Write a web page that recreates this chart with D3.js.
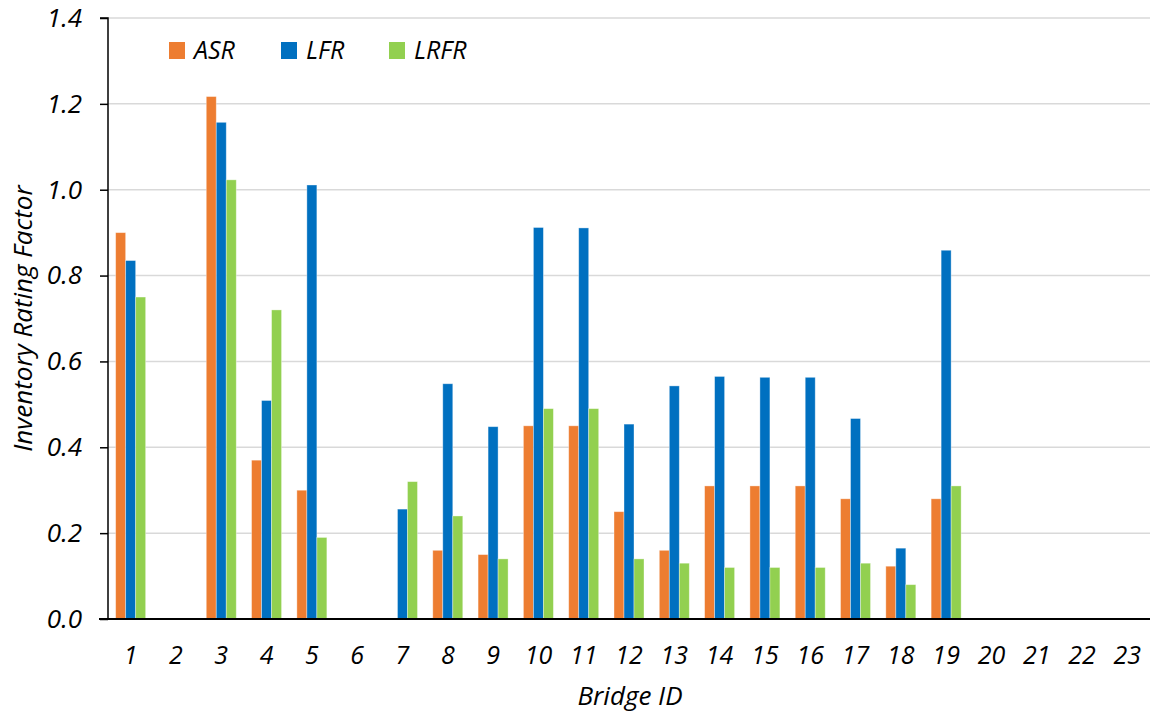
<!DOCTYPE html>
<html>
<head>
<meta charset="utf-8">
<script src="https://cdn.jsdelivr.net/npm/d3@7"></script>
<style>
  html, body { margin: 0; padding: 0; background: #fff; }
  svg text { font-family: "Open Sans", "Noto Sans", sans-serif; font-style: italic; fill: #000; }
</style>
</head>
<body>
<svg id="chart" width="1151" height="715"></svg>
<script>
// Bridge IDs along the horizontal axis
const bridgeIds = ["1","2","3","4","5","6","7","8","9","10","11","12","13","14","15","16","17","18","19","20","21","22","23"];

// Inventory rating factors per method (null = not rated)
const asr  = [0.90, null, 1.217, 0.37, 0.30, null, null, 0.16, 0.15, 0.45, 0.45, 0.25, 0.16, 0.31, 0.31, 0.31, 0.28, 0.123, 0.28, null, null, null, null];
const lfr  = [0.835, null, 1.157, 0.509, 1.011, null, 0.256, 0.548, 0.448, 0.912, 0.911, 0.454, 0.543, 0.565, 0.563, 0.563, 0.467, 0.165, 0.859, null, null, null, null];
const lrfr = [0.75, null, 1.023, 0.72, 0.19, null, 0.32, 0.24, 0.14, 0.49, 0.49, 0.14, 0.13, 0.12, 0.12, 0.12, 0.13, 0.08, 0.31, null, null, null, null];

const seriesNames = ["ASR", "LFR", "LRFR"];
const seriesColors = ["#ED7D31", "#0070C0", "#92D050"];
const yTicks = [0, 0.2, 0.4, 0.6, 0.8, 1.0, 1.2, 1.4];

const svg = d3.select("#chart");
const plot = { left: 108, right: 1150, top: 18, bottom: 619 };

const x = d3.scaleBand().domain(bridgeIds).range([plot.left, plot.right]).paddingInner(0).paddingOuter(0);
const xSeries = d3.scaleBand().domain(seriesNames).range([0, 30]);
const y = d3.scaleLinear().domain([0, 1.4]).range([plot.bottom, plot.top]);

// horizontal gridlines
svg.append("g")
  .selectAll("line")
  .data(yTicks.slice(1))
  .join("line")
  .attr("x1", plot.left).attr("x2", plot.right)
  .attr("y1", d => y(d)).attr("y2", d => y(d))
  .attr("stroke", "#d9d9d9").attr("stroke-width", 1.5);

// bars
const seriesData = [asr, lfr, lrfr];
const bars = svg.append("g");
seriesNames.forEach((name, si) => {
  const rows = bridgeIds.map((id, i) => ({ id, v: seriesData[si][i] })).filter(d => d.v != null);
  bars.append("g")
    .selectAll("rect")
    .data(rows)
    .join("rect")
    .attr("x", d => x(d.id) + x.bandwidth() / 2 - 15 + xSeries(name))
    .attr("width", xSeries.bandwidth())
    .attr("y", d => y(d.v))
    .attr("height", d => y(0) - y(d.v))
    .attr("fill", seriesColors[si])
    .attr("stroke", "rgba(255,255,255,0.45)")
    .attr("stroke-width", 0.8);
});

// y axis
const yAxis = d3.axisLeft(y).tickValues(yTicks).tickFormat(d3.format(".1f")).tickSize(8).tickPadding(18);
const gy = svg.append("g").attr("transform", `translate(${plot.left},0)`).call(yAxis);
gy.select(".domain").attr("stroke", "#000").attr("stroke-width", 1.5).attr("d", `M${-8},${plot.top}H0V${plot.bottom}`);
gy.selectAll(".tick line").attr("stroke", "#000").attr("stroke-width", 1.5);
gy.selectAll(".tick text").attr("font-size", 26).style("font-family", "'Open Sans', sans-serif").style("font-style", "italic").attr("fill", "#000");

// x axis
const xAxis = d3.axisBottom(x).tickSize(0).tickPadding(27);
const gx = svg.append("g").attr("transform", `translate(0,${plot.bottom})`).call(xAxis);
gx.select(".domain").attr("stroke", "#000").attr("stroke-width", 2).attr("d", `M${plot.left - 9},0H${plot.right}`);
gx.selectAll(".tick text").attr("font-size", 25).style("font-family", "'Open Sans', sans-serif").style("font-style", "italic").attr("fill", "#000");

// axis titles
svg.append("text")
  .attr("x", 630).attr("y", 705)
  .attr("text-anchor", "middle")
  .attr("font-size", 26)
  .text("Bridge ID");

svg.append("text")
  .attr("transform", `translate(32,${(plot.top + plot.bottom) / 2}) rotate(-90)`)
  .attr("text-anchor", "middle")
  .attr("font-size", 26)
  .text("Inventory Rating Factor");

// legend
const legendX = [169, 281, 389];
const legend = svg.append("g");
seriesNames.forEach((name, i) => {
  legend.append("rect")
    .attr("x", legendX[i]).attr("y", 42)
    .attr("width", 16).attr("height", 17)
    .attr("fill", seriesColors[i]);
  legend.append("text")
    .attr("x", legendX[i] + 25).attr("y", 59)
    .attr("font-size", 25)
    .text(name);
});
</script>
</body>
</html>
